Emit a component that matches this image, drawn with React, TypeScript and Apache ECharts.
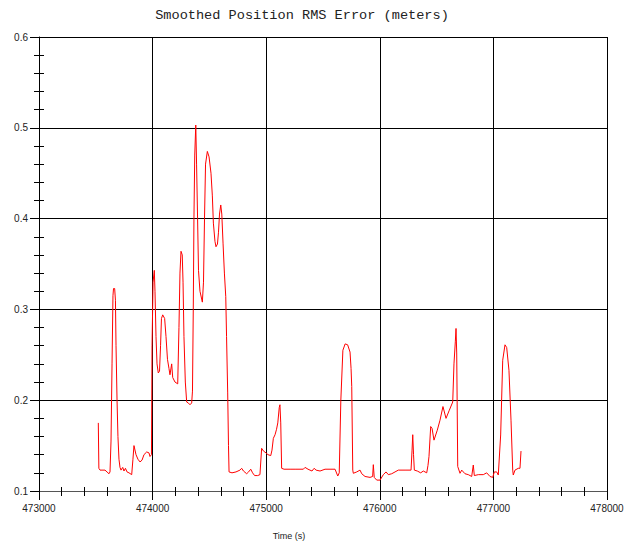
import React, { useEffect, useRef } from "react";
import * as echarts from "echarts";

// Time stamps (s) of the smoothed solution samples
const times: number[] = [
  473522, 473527, 473537, 473581, 473607, 473616, 473625, 473634, 473643, 473651,
  473656, 473666, 473673, 473678, 473687, 473695, 473704, 473713, 473722, 473737,
  473748, 473761, 473775, 473792, 473816, 473827, 473836, 473854, 473871, 473889,
  473907, 473924, 473948, 473968, 473977, 473990, 473995, 474004, 474015, 474021,
  474030, 474039, 474050, 474061, 474070, 474078, 474089, 474106, 474118, 474131,
  474144, 474153, 474168, 474177, 474197, 474221, 474232, 474241, 474250, 474261,
  474268, 474276, 474288, 474300, 474314, 474329, 474344, 474351, 474358, 474364,
  474371, 474380, 474387, 474396, 474404, 474417, 474438, 474448, 474457, 474466,
  474482, 474497, 474514, 474526, 474535, 474549, 474558, 474571, 474580, 474589,
  474600, 474609, 474620, 474632, 474644, 474651, 474661, 474668, 474673, 474699,
  474734, 474769, 474784, 474800, 474828, 474845, 474864, 474880, 474898, 474925,
  474945, 474960, 474976, 474998, 475016, 475040, 475051, 475063, 475078, 475091,
  475102, 475115, 475121, 475128, 475136, 475157, 475210, 475254, 475327, 475342,
  475368, 475403, 475422, 475439, 475474, 475518, 475562, 475606, 475630, 475643,
  475657, 475675, 475695, 475717, 475738, 475747, 475753, 475762, 475767, 475797,
  475826, 475841, 475870, 475914, 475937, 475943, 475951, 475973, 476002, 476031,
  476055, 476075, 476105, 476134, 476163, 476222, 476275, 476284, 476290, 476297,
  476304, 476330, 476360, 476383, 476413, 476424, 476433, 476448, 476460, 476477,
  476506, 476530, 476556, 476583, 476612, 476642, 476653, 476665, 476671, 476677,
  476686, 476706, 476721, 476750, 476779, 476809, 476823, 476832, 476867, 476911,
  476941, 476970, 476994, 477008, 477029, 477043, 477064, 477082, 477102, 477117,
  477137, 477155, 477170, 477175, 477190, 477219, 477234, 477243,
];

// Smoothed position RMS error (m) at each time stamp
const rmsError: number[] = [
  0.175, 0.125, 0.123, 0.123, 0.12, 0.119, 0.121, 0.155, 0.24, 0.315,
  0.323, 0.323, 0.31, 0.26, 0.2, 0.16, 0.135, 0.126, 0.123, 0.126,
  0.122, 0.125, 0.121, 0.12, 0.118, 0.135, 0.15, 0.14, 0.135, 0.132,
  0.134, 0.14, 0.143, 0.142, 0.138, 0.14, 0.26, 0.33, 0.343, 0.32,
  0.27, 0.24, 0.23, 0.232, 0.26, 0.29, 0.294, 0.29, 0.27, 0.245,
  0.235, 0.228, 0.24, 0.225, 0.22, 0.218, 0.28, 0.34, 0.364, 0.36,
  0.33, 0.27, 0.22, 0.198, 0.197, 0.195, 0.197, 0.21, 0.3, 0.4,
  0.47, 0.503, 0.46, 0.4, 0.343, 0.32, 0.308, 0.33, 0.4, 0.46,
  0.474, 0.468, 0.45, 0.425, 0.395, 0.375, 0.369, 0.372, 0.385, 0.405,
  0.415, 0.405, 0.373, 0.34, 0.314, 0.27, 0.208, 0.15, 0.121, 0.12,
  0.121, 0.123, 0.125, 0.122, 0.119, 0.121, 0.124, 0.12, 0.117, 0.117,
  0.118, 0.147, 0.144, 0.142, 0.14, 0.139, 0.145, 0.158, 0.162, 0.168,
  0.175, 0.192, 0.195, 0.175, 0.125, 0.124, 0.124, 0.124, 0.124, 0.126,
  0.124, 0.122, 0.125, 0.123, 0.122, 0.124, 0.124, 0.124, 0.1165, 0.12,
  0.2, 0.255, 0.262, 0.261, 0.253, 0.235, 0.215, 0.123, 0.1195, 0.121,
  0.123, 0.119, 0.116, 0.115, 0.116, 0.129, 0.115, 0.112, 0.112, 0.118,
  0.121, 0.118, 0.119, 0.121, 0.123, 0.123, 0.123, 0.145, 0.162, 0.14,
  0.123, 0.122, 0.12, 0.122, 0.12, 0.128, 0.138, 0.171, 0.169, 0.156,
  0.167, 0.178, 0.193, 0.18, 0.189, 0.198, 0.24, 0.265, 0.279, 0.252,
  0.127, 0.1195, 0.123, 0.119, 0.118, 0.116, 0.1286, 0.117, 0.118, 0.118,
  0.12, 0.116, 0.115, 0.121, 0.121, 0.1176, 0.1617, 0.244, 0.261, 0.258,
  0.233, 0.178, 0.123, 0.1176, 0.123, 0.125, 0.125, 0.144,
];

const chartTitle = "Smoothed Position RMS Error (meters)";
const xAxisTitle = "Time (s)";

const LABEL_FONT = '"Liberation Sans", Arial, sans-serif';
const MONO_FONT = '"Liberation Mono", "Courier New", "DejaVu Sans Mono", monospace';

export default function App() {
  const ref = useRef<HTMLDivElement>(null);

  useEffect(() => {
    if (!ref.current) return;
    const chart = echarts.init(ref.current, undefined, { renderer: "svg" });

    const seriesData = times.map((t, i) => [t, rmsError[i]]);

    const labelStyle = { color: "#222", fontFamily: LABEL_FONT, fontSize: 10 };

    chart.setOption({
      animation: false,
      backgroundColor: "#fff",
      grid: { left: 39, right: 26, top: 37, bottom: 56, containLabel: false },
      graphic: [
        {
          type: "text",
          x: 302,
          y: 15,
          style: {
            text: chartTitle,
            fontFamily: MONO_FONT,
            fontSize: 13.6,
            fill: "#222",
            textAlign: "center",
            textVerticalAlign: "middle",
          },
        },
        {
          type: "text",
          x: 289,
          y: 536,
          style: {
            text: xAxisTitle,
            fontFamily: LABEL_FONT,
            fontSize: 9,
            fill: "#222",
            textAlign: "center",
            textVerticalAlign: "middle",
          },
        },
      ],
      xAxis: [
        {
          type: "value",
          min: 473000,
          max: 478000,
          interval: 1000,
          position: "bottom",
          axisLine: { show: true, onZero: false, lineStyle: { color: "#555", width: 1 } },
          axisTick: { show: true, length: 9, lineStyle: { color: "#000" } },
          minorTick: { show: true, splitNumber: 5, length: 5, lineStyle: { color: "#000" } },
          axisLabel: {
            ...labelStyle,
            margin: 12,
            showMinLabel: true,
            showMaxLabel: true,
            formatter: (v: number) => String(Math.round(v)),
          },
          splitLine: { show: true, lineStyle: { color: "#000", width: 1 } },
        },
        {
          // inner half of the minor ticks
          type: "value",
          min: 473000,
          max: 478000,
          interval: 1000,
          position: "bottom",
          axisLine: { show: false },
          axisTick: { show: false, inside: true },
          minorTick: { show: true, splitNumber: 5, length: 4, lineStyle: { color: "#000" } },
          axisLabel: { show: false },
          splitLine: { show: false },
        },
      ],
      yAxis: [
        {
          type: "value",
          min: 0.1,
          max: 0.6,
          interval: 0.1,
          position: "left",
          axisLine: { show: true, onZero: false, lineStyle: { color: "#000", width: 1 } },
          axisTick: { show: true, length: 9, lineStyle: { color: "#000" } },
          minorTick: { show: true, splitNumber: 5, length: 5, lineStyle: { color: "#000" } },
          axisLabel: {
            ...labelStyle,
            margin: 11,
            formatter: (v: number) => v.toFixed(1),
          },
          splitLine: { show: true, lineStyle: { color: "#000", width: 1 } },
        },
        {
          // inner half of the minor ticks
          type: "value",
          min: 0.1,
          max: 0.6,
          interval: 0.1,
          position: "left",
          axisLine: { show: false },
          axisTick: { show: false, inside: true },
          minorTick: { show: true, splitNumber: 5, length: 5, lineStyle: { color: "#000" } },
          axisLabel: { show: false },
          splitLine: { show: false },
        },
      ],
      series: [
        {
          type: "line",
          xAxisIndex: 0,
          yAxisIndex: 0,
          data: seriesData,
          showSymbol: false,
          symbol: "none",
          lineStyle: { color: "#ff0000", width: 1 },
          z: 10,
        },
      ],
    });

    return () => chart.dispose();
  }, []);

  return (
    <div
      ref={ref}
      style={{ position: "fixed", left: 0, top: 0, width: 633, height: 547, background: "#fff" }}
    />
  );
}
